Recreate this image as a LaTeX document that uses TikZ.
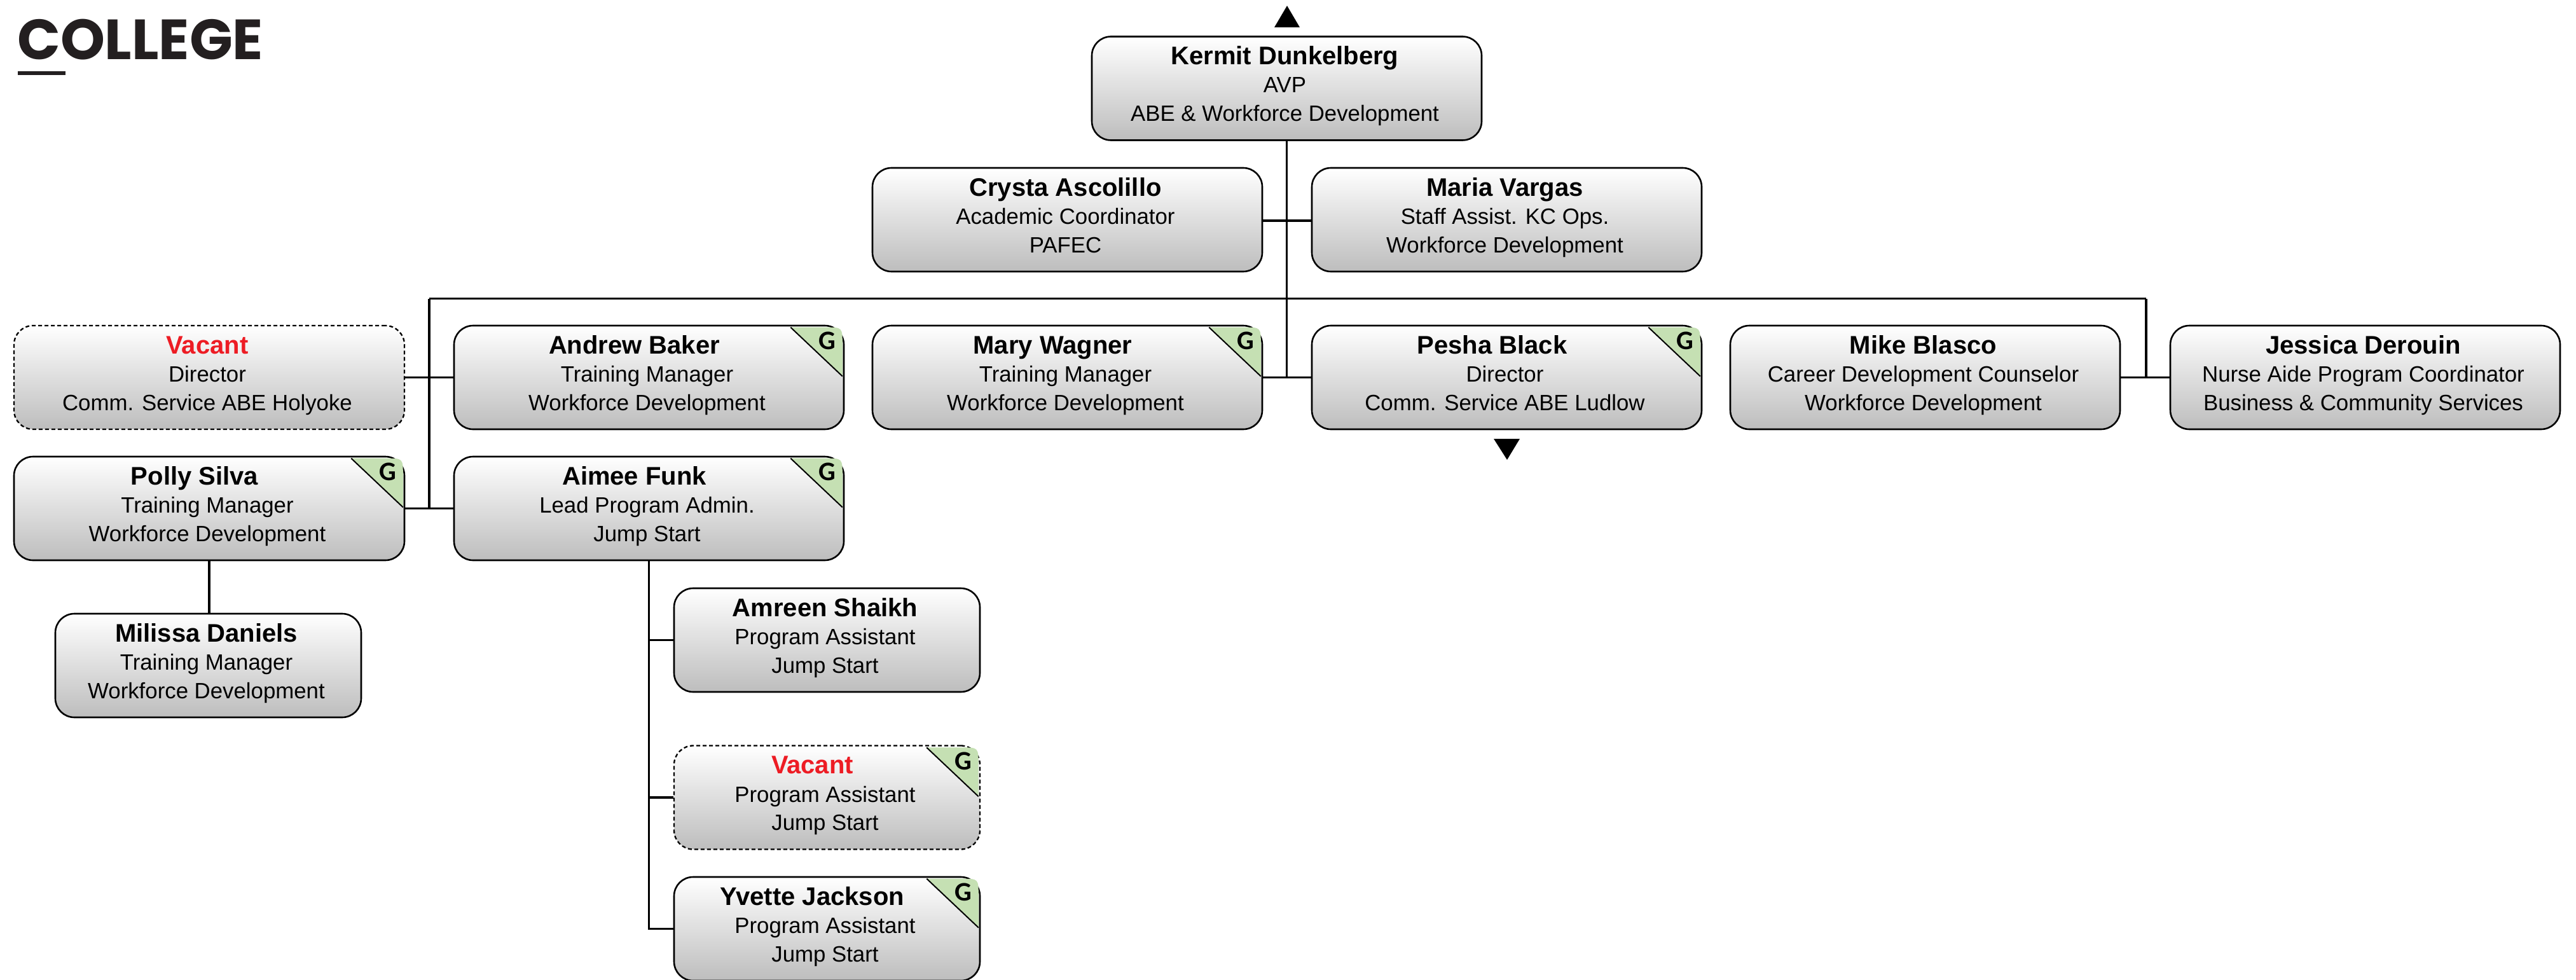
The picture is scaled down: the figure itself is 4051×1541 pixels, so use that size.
\documentclass[tikz,border=0pt]{standalone}
\usepackage{fontspec}
\setmainfont{Liberation Sans}
\newfontfamily\logofont{Poppins}
\newfontfamily\gfont{Carlito}
\usetikzlibrary{calc}
\definecolor{boxbot}{HTML}{BDBDBD}
\definecolor{gcorner}{HTML}{C5E0B3}
\definecolor{vacred}{HTML}{ED1C24}
\definecolor{logoblack}{HTML}{231F20}
\newcommand{\nmf}{\fontsize{40}{44.5}\selectfont\bfseries}
\newcommand{\bdf}{\fontsize{34.8}{44.5}\selectfont}
\tikzset{
  x=1pt,y=-1pt,
  personbox/.style={draw=black,line width=2.6pt,rounded corners=30pt,top color=white,bottom color=boxbot,
    minimum height=163pt,inner sep=0pt,align=center,font=\bdf},
  vacantbox/.style={personbox,line width=2.3pt,dash pattern=on 6pt off 4pt},
  conn/.style={draw=black,line width=3.5pt},
  glabel/.style={font=\gfont\bfseries\fontsize{42}{42}\selectfont,inner sep=0pt,text=black},
}
% id, left, top, width, box style, name shift, name, line 2, line 3
\newcommand{\person}[9]{%
  \pgfmathsetmacro{\cx}{#2+#4/2}\pgfmathsetmacro{\cy}{#3+81.5}%
  \node[#5,minimum width=#4pt] (#1) at (\cx,\cy)
    {\rule{0pt}{29pt}\hspace*{\dimexpr#6pt-6pt\relax}{\nmf #7}\\
     \hspace*{-6pt}#8\\
     \hspace*{-6pt}#9\rule[-15pt]{0pt}{15pt}};}
\newcommand{\gtag}[1]{%
  \path (#1.north east) coordinate (ne);
  \fill[gcorner] ([shift={(-85pt,-4pt)}]ne) -- ([shift={(-30pt,-4pt)}]ne)
     .. controls ([shift={(-3.5pt,-4pt)}]ne) .. ([shift={(-3.5pt,-31pt)}]ne)
     -- ([shift={(-3.5pt,-81pt)}]ne) -- cycle;
  \draw[black,line width=2pt] ([shift={(-85pt,-4pt)}]ne) -- ([shift={(-3.5pt,-81pt)}]ne);
  \node[glabel] (#1g) at ([shift={(-27.5pt,-25.5pt)}]ne) {G};}
\begin{document}
\begin{tikzpicture}
\useasboundingbox (0,0) rectangle (4051,1541);
% logo
\node[anchor=base west,inner sep=0pt,text=logoblack,font=\logofont\bfseries\fontsize{89}{89}\selectfont] (logo) at (27,94) {COLLEGE};
\fill[logoblack] (28,112.5) rectangle (103,118);
% arrows
\fill[black] (2024,9) -- (2044,43) -- (2004,43) -- cycle;
\fill[black] (2370,723) -- (2390,690) -- (2349,690) -- cycle;
% boxes
\person{kermit}{1717}{57.5}{613}{personbox}{0}{Kermit Dunkelberg}{AVP}{ABE \& Workforce Development}
\person{crysta}{1372}{264}{613}{personbox}{0}{Crysta Ascolillo}{Academic Coordinator}{PAFEC}
\person{maria}{2063}{264}{613}{personbox}{0}{Maria Vargas}{Staff Assist. KC Ops.}{Workforce Development}
\person{vacdir}{22}{512}{614}{vacantbox}{0}{\textcolor{vacred}{Vacant}}{Director}{Comm. Service ABE Holyoke}
\person{andrew}{714}{512}{613}{personbox}{-40}{Andrew Baker}{Training Manager}{Workforce Development}
\person{mary}{1372}{512}{613}{personbox}{-40}{Mary Wagner}{Training Manager}{Workforce Development}
\person{pesha}{2063}{512}{613}{personbox}{-40}{Pesha Black}{Director}{Comm. Service ABE Ludlow}
\person{mike}{2721}{512}{613}{personbox}{0}{Mike Blasco}{Career Development Counselor}{Workforce Development}
\person{jessica}{3413}{512}{613}{personbox}{0}{Jessica Derouin}{Nurse Aide Program Coordinator}{Business \& Community Services}
\person{polly}{22}{718}{614}{personbox}{-40}{Polly Silva}{Training Manager}{Workforce Development}
\person{aimee}{714}{718}{613}{personbox}{-40}{Aimee Funk}{Lead Program Admin.}{Jump Start}
\person{milissa}{87}{965}{481}{personbox}{0}{Milissa Daniels}{Training Manager}{Workforce Development}
\person{amreen}{1060}{925}{481}{personbox}{0}{Amreen Shaikh}{Program Assistant}{Jump Start}
\person{vacpa}{1060}{1172.5}{481}{vacantbox}{-40}{\textcolor{vacred}{Vacant}}{Program Assistant}{Jump Start}
\person{yvette}{1060}{1379}{481}{personbox}{-40}{Yvette Jackson}{Program Assistant}{Jump Start}
% G corners
\gtag{andrew}\gtag{mary}\gtag{pesha}\gtag{polly}\gtag{aimee}\gtag{vacpa}\gtag{yvette}
% connectors
\coordinate (busL) at (675,469.5);
\coordinate (busR) at (3375,469.5);
\draw[conn] (kermit.south) -- (kermit.south |- mary.east);
\draw[conn] ([yshift=-1.5pt]crysta.east) -- ([yshift=-1.5pt]maria.west);
\draw[conn] (busL) -- (busR);
\draw[conn] (busL) -- (busL |- polly.east);
\draw[conn] (busR) -- (busR |- mike.east);
\draw[conn] (vacdir.east) -- (andrew.west);
\draw[conn] (polly.east) -- (aimee.west);
\draw[conn] (mary.east) -- (pesha.west);
\draw[conn] (mike.east) -- (jessica.west);
\draw[conn] (polly.south) -- (polly.south |- milissa.north);
\coordinate (aimeedrop) at (1020.5,881.5);
\draw[conn] (aimeedrop) -- (aimeedrop |- yvette.west) -- (yvette.west);
\draw[conn] (aimeedrop |- amreen.west) -- (amreen.west);
\draw[conn] (aimeedrop |- vacpa.west) -- (vacpa.west);
\end{tikzpicture}
\end{document}
